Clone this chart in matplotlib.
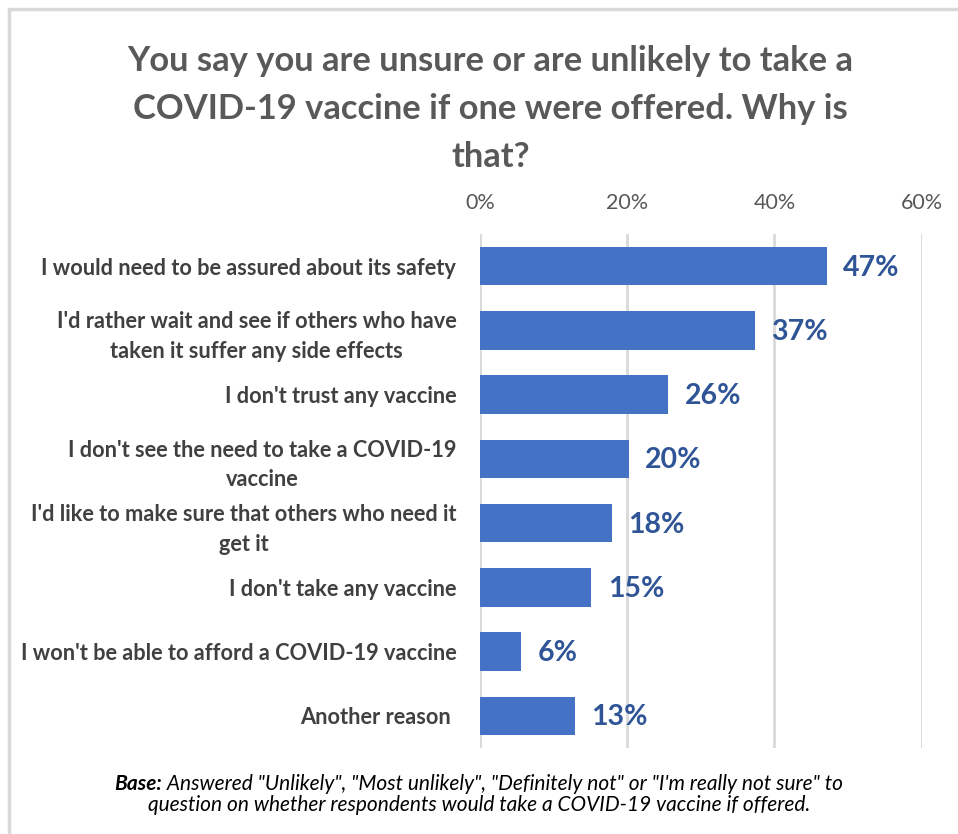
import matplotlib
matplotlib.use("Agg")
import matplotlib.pyplot as plt
from matplotlib.offsetbox import TextArea, HPacker, VPacker, AnnotationBbox
from matplotlib.patches import Rectangle

plt.rcParams["font.family"] = ["Lato", "DejaVu Sans"]

reasons = [
    "I would need to be assured about its safety",
    "I'd rather wait and see if others who have\ntaken it suffer any side effects",
    "I don't trust any vaccine",
    "I don't see the need to take a COVID-19\nvaccine",
    "I'd like to make sure that others who need it\nget it",
    "I don't take any vaccine",
    "I won't be able to afford a COVID-19 vaccine",
    "Another reason ",
]
shares = [47.1, 37.3, 25.6, 20.2, 17.9, 15.1, 5.6, 12.9]
share_labels = ["47%", "37%", "26%", "20%", "18%", "15%", "6%", "13%"]
x_ticks = [0, 20, 40, 60]
x_tick_labels = ["0%", "20%", "40%", "60%"]

title = ("You say you are unsure or are unlikely to take a\n"
         "COVID-19 vaccine if one were offered. Why is\nthat?")

BAR = "#4472C4"
VAL = "#2F5597"
GREY = "#595959"
LABEL = "#404040"
GRID = "#D9D9D9"

fig = plt.figure(figsize=(9.58, 8.34), dpi=100)
ax = fig.add_axes([0.501, 0.1031, 0.461, 0.6163])

# light frame like the exported chart area
fig.patches.append(Rectangle((9 / 958, -0.01), 1.0, 1 - 9 / 834 + 0.01,
                             transform=fig.transFigure, fill=False,
                             edgecolor=GRID, linewidth=2.5))

ypos = list(range(len(reasons)))
ax.barh(ypos, shares, height=0.6, color=BAR, zorder=3)
ax.set_ylim(len(reasons) - 0.5, -0.5)
ax.set_xlim(0, 60)

ax.set_yticks(ypos)
ax.set_yticklabels(reasons, fontsize=15.7, fontweight="bold", color=LABEL,
                   multialignment="center", linespacing=1.5)
ax.tick_params(axis="y", length=0, pad=17)

ax.xaxis.tick_top()
ax.set_xticks(x_ticks)
ax.set_xticklabels(x_tick_labels, fontsize=15.5, color=GREY)
ax.tick_params(axis="x", length=0, pad=15)
ax.grid(axis="x", color=GRID, linewidth=2, zorder=0)

for s in ax.spines.values():
    s.set_visible(False)

for y, v, lab in zip(ypos, shares, share_labels):
    ax.annotate(lab, (v, y), textcoords="offset points", xytext=(12, -1),
                va="center", ha="left", fontsize=20.5, fontweight="bold", color=VAL)

fig.text(0.512, 0.946, title, ha="center", va="top", fontsize=24.8,
         fontweight="bold", color=GREY, linespacing=1.62)

# footnote with bold "Base:"
fs = 15
line1 = HPacker(children=[
    TextArea("Base:", textprops=dict(fontsize=fs, fontweight="bold", style="italic", color="black")),
    TextArea(' Answered "Unlikely", "Most unlikely", "Definitely not" or "I\'m really not sure" to',
             textprops=dict(fontsize=fs, style="italic", color="black")),
], pad=0, sep=0)
line2 = TextArea("question on whether respondents would take a COVID-19 vaccine if offered.",
                 textprops=dict(fontsize=fs, style="italic", color="black"))
note = VPacker(children=[line1, line2], align="center", pad=0, sep=1)
ab = AnnotationBbox(note, (0.5, 0.047), xycoords="figure fraction",
                    frameon=False, box_alignment=(0.5, 0.5))
fig.add_artist(ab)

fig.savefig("out.png", dpi=100, facecolor="white")
